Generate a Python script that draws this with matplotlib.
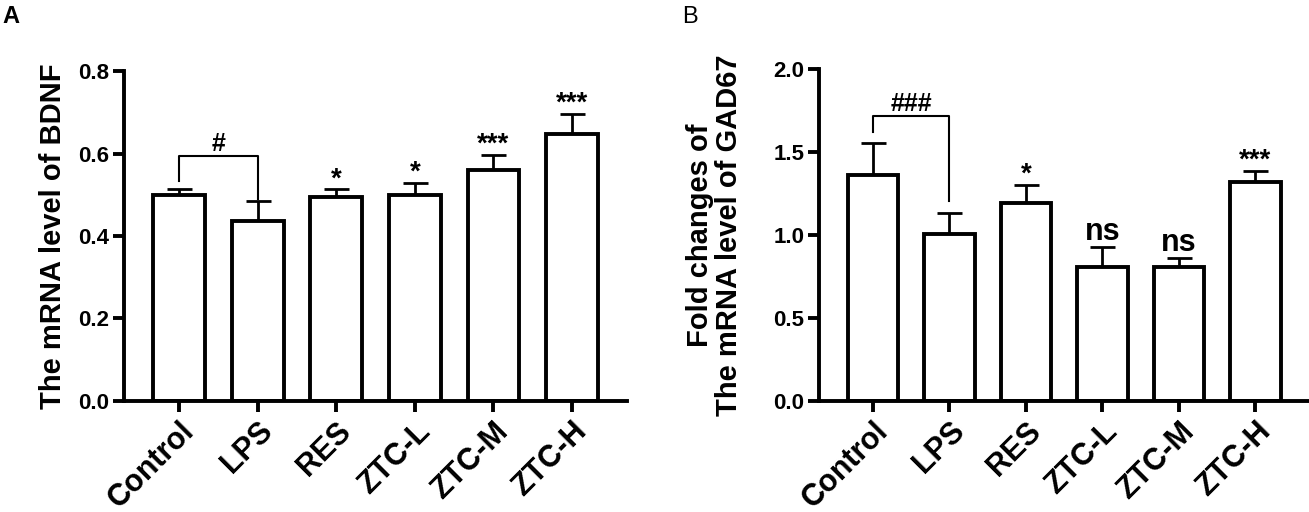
import matplotlib
matplotlib.use('Agg')
import matplotlib.pyplot as plt

plt.rcParams['font.family'] = ['Liberation Sans', 'DejaVu Sans']

GROUPS = ['Control', 'LPS', 'RES', 'ZTC-L', 'ZTC-M', 'ZTC-H']

# panel A: BDNF
bdnf_mean = [0.500, 0.437, 0.495, 0.499, 0.561, 0.647]
bdnf_err = [0.013, 0.049, 0.018, 0.029, 0.035, 0.050]
bdnf_marks = ['', '', '*', '*', '***', '***']

# panel B: GAD67
gad_mean = [1.364, 1.004, 1.192, 0.808, 0.808, 1.319]
gad_err = [0.188, 0.131, 0.111, 0.121, 0.051, 0.065]
gad_marks = ['', '', '*', 'ns', 'ns', '***']

LW = 2.8
ERR_LW = 2.0


def draw_panel(ax, means, errs, marks, ymax, ystep, ylabel, bracket, hash_text, labelpad):
    x = list(range(len(GROUPS)))
    ax.bar(x, means, width=0.66, color='white', edgecolor='black', linewidth=LW, zorder=2)
    ax.errorbar(x, means, yerr=[[0] * len(errs), errs], fmt='none', ecolor='black',
                elinewidth=ERR_LW, capsize=9, capthick=ERR_LW, zorder=1)

    for i, m in enumerate(marks):
        if not m:
            continue
        top = means[i] + errs[i]
        if m == 'ns':
            ax.annotate(m, (i, top), xytext=(0, 0), textcoords='offset points',
                        ha='center', va='bottom', fontsize=22, fontweight='bold')
        else:
            ax.annotate(m, (i, top), xytext=(0, -2), textcoords='offset points',
                        ha='center', va='bottom', fontsize=20, fontweight='bold')

    # control vs LPS bracket
    by, left_low, right_low = bracket
    ax.plot([0, 0, 1, 1], [left_low, by, by, right_low], color='black', lw=1.5,
            clip_on=False)
    ax.annotate(hash_text, (0.5, by), xytext=(0, 0), textcoords='offset points',
                ha='center', va='bottom', fontsize=18, fontweight='bold')

    ax.set_xlim(-0.7, 5.7)
    ax.set_ylim(0, ymax)
    ticks = [round(ystep * k, 2) for k in range(int(round(ymax / ystep)) + 1)]
    ax.set_yticks(ticks)
    ax.set_yticklabels(['%.1f' % t for t in ticks], fontsize=16, fontweight='bold')
    ax.set_xticks(x)
    ax.set_xticklabels(GROUPS, rotation=45, ha='right', rotation_mode='anchor',
                       fontsize=22, fontweight='bold')
    for s in ['top', 'right']:
        ax.spines[s].set_visible(False)
    for s in ['left', 'bottom']:
        ax.spines[s].set_linewidth(LW)
    ax.tick_params(axis='both', width=LW, length=8, direction='out')
    ax.tick_params(axis='x', pad=3)
    ax.tick_params(axis='y', pad=3)
    ax.set_ylabel(ylabel, fontsize=21, fontweight='bold', labelpad=labelpad,
                  linespacing=1.05)


fig = plt.figure(figsize=(13.09, 5.12), dpi=100)
ax1 = fig.add_axes([0.095, 0.217, 0.384, 0.644])
ax2 = fig.add_axes([0.626, 0.217, 0.374, 0.648])

draw_panel(ax1, bdnf_mean, bdnf_err, bdnf_marks, 0.8, 0.2,
           'The mRNA level of BDNF', (0.593, 0.534, 0.49), '#', 8)
draw_panel(ax2, gad_mean, gad_err, gad_marks, 2.0, 0.5,
           'Fold changes of\nThe mRNA level of GAD67', (1.72, 1.62, 1.206), '###', 22)

fig.text(0.002, 0.955, 'A', fontsize=17, fontweight='bold')
fig.text(0.521, 0.955, 'B', fontsize=17)

fig.savefig('out.png', dpi=100)
